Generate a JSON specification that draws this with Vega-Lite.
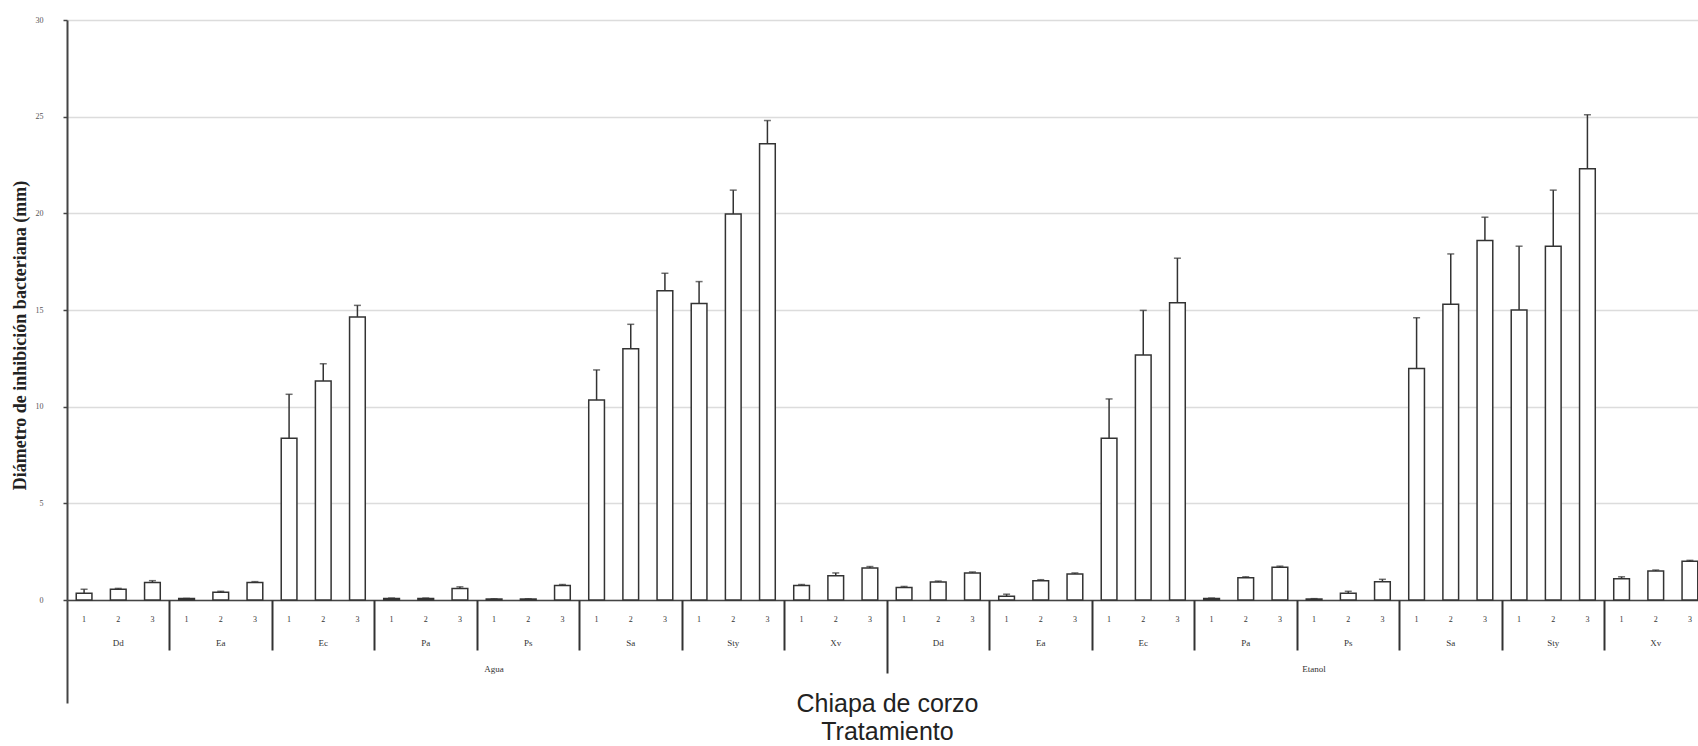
{
  "$schema": "https://vega.github.io/schema/vega-lite/v6.json",
  "width": 1640,
  "height": 580,
  "autosize": {"type": "none"},
  "padding": {"left": 67, "top": 20, "right": 0, "bottom": 146},
  "background": "white",
  "config": {
    "view": {"stroke": null},
    "axis": {"labelFont": "Liberation Serif", "titleFont": "Liberation Serif"}
  },
  "data": {
    "values": [
      {"id": "A-Dd-1", "value": 0.35, "upper": 0.55},
      {"id": "A-Dd-2", "value": 0.55, "upper": 0.6},
      {"id": "A-Dd-3", "value": 0.9, "upper": 1.0},
      {"id": "A-Ea-1", "value": 0.08, "upper": 0.08},
      {"id": "A-Ea-2", "value": 0.4, "upper": 0.45},
      {"id": "A-Ea-3", "value": 0.9, "upper": 0.95},
      {"id": "A-Ec-1", "value": 8.36, "upper": 10.64},
      {"id": "A-Ec-2", "value": 11.33, "upper": 12.22},
      {"id": "A-Ec-3", "value": 14.64, "upper": 15.24},
      {"id": "A-Pa-1", "value": 0.08, "upper": 0.1},
      {"id": "A-Pa-2", "value": 0.08, "upper": 0.1},
      {"id": "A-Pa-3", "value": 0.6, "upper": 0.68},
      {"id": "A-Ps-1", "value": 0.05, "upper": 0.06},
      {"id": "A-Ps-2", "value": 0.05, "upper": 0.06},
      {"id": "A-Ps-3", "value": 0.75, "upper": 0.8},
      {"id": "A-Sa-1", "value": 10.34, "upper": 11.9},
      {"id": "A-Sa-2", "value": 13.0, "upper": 14.26},
      {"id": "A-Sa-3", "value": 16.0, "upper": 16.9},
      {"id": "A-Sty-1", "value": 15.34, "upper": 16.47},
      {"id": "A-Sty-2", "value": 19.97, "upper": 21.2},
      {"id": "A-Sty-3", "value": 23.6, "upper": 24.8},
      {"id": "A-Xv-1", "value": 0.75, "upper": 0.8},
      {"id": "A-Xv-2", "value": 1.25, "upper": 1.4},
      {"id": "A-Xv-3", "value": 1.65, "upper": 1.73},
      {"id": "E-Dd-1", "value": 0.65, "upper": 0.7},
      {"id": "E-Dd-2", "value": 0.93, "upper": 0.98},
      {"id": "E-Dd-3", "value": 1.4, "upper": 1.45},
      {"id": "E-Ea-1", "value": 0.2, "upper": 0.3},
      {"id": "E-Ea-2", "value": 1.0, "upper": 1.05},
      {"id": "E-Ea-3", "value": 1.35, "upper": 1.4},
      {"id": "E-Ec-1", "value": 8.36, "upper": 10.4},
      {"id": "E-Ec-2", "value": 12.67, "upper": 14.98},
      {"id": "E-Ec-3", "value": 15.38, "upper": 17.68},
      {"id": "E-Pa-1", "value": 0.08, "upper": 0.1},
      {"id": "E-Pa-2", "value": 1.15, "upper": 1.2},
      {"id": "E-Pa-3", "value": 1.7, "upper": 1.75},
      {"id": "E-Ps-1", "value": 0.05, "upper": 0.07},
      {"id": "E-Ps-2", "value": 0.35, "upper": 0.45},
      {"id": "E-Ps-3", "value": 0.95, "upper": 1.07},
      {"id": "E-Sa-1", "value": 11.98, "upper": 14.6},
      {"id": "E-Sa-2", "value": 15.3, "upper": 17.9},
      {"id": "E-Sa-3", "value": 18.6, "upper": 19.8},
      {"id": "E-Sty-1", "value": 15.0, "upper": 18.3},
      {"id": "E-Sty-2", "value": 18.3, "upper": 21.2},
      {"id": "E-Sty-3", "value": 22.3, "upper": 25.1},
      {"id": "E-Xv-1", "value": 1.1, "upper": 1.2},
      {"id": "E-Xv-2", "value": 1.5, "upper": 1.55},
      {"id": "E-Xv-3", "value": 2.0, "upper": 2.05}
    ]
  },
  "layer": [
    {
      "mark": {"type": "bar", "fill": "white", "stroke": "#333", "strokeWidth": 1.5, "width": {"band": 0.46}},
      "encoding": {
        "x": {
          "field": "id", "type": "nominal", "sort": null,
          "scale": {"paddingInner": 0, "paddingOuter": 0},
          "axis": {
            "orient": "bottom", "title": null, "labelAngle": 0,
            "labelExpr": "slice(datum.value, -1)",
            "labelFontSize": 8, "labelColor": "#333", "labelPadding": 15,
            "ticks": false, "tickSize": 0, "grid": false,
            "domain": true, "domainColor": "#444", "domainWidth": 1.5
          }
        },
        "y": {
          "field": "value", "type": "quantitative",
          "scale": {"domain": [0, 30], "nice": false},
          "axis": {
            "values": [0, 5, 10, 15, 20, 25, 30],
            "title": "Diámetro de inhibición bacteriana (mm)",
            "titleFontSize": 18, "titleFontWeight": "bold", "titleColor": "#222", "titlePadding": 6,
            "titleY": 315,
            "labelFontSize": 8, "labelColor": "#555", "labelPadding": 20,
            "tickSize": 4, "tickColor": "#444", "tickWidth": 1.5,
            "domainColor": "#444", "domainWidth": 2,
            "grid": true, "gridColor": "#dcdcdc", "gridWidth": 1.5
          }
        }
      }
    },
    {
      "mark": {"type": "rule", "stroke": "#333", "strokeWidth": 1.5},
      "encoding": {
        "x": {"field": "id", "type": "nominal", "sort": null, "axis": null},
        "y": {"field": "value", "type": "quantitative"},
        "y2": {"field": "upper"}
      }
    },
    {
      "mark": {"type": "tick", "color": "#333", "size": 7, "thickness": 1.5},
      "encoding": {
        "x": {"field": "id", "type": "nominal", "sort": null, "axis": null},
        "y": {"field": "upper", "type": "quantitative"}
      }
    },
    {
      "mark": {"type": "rule", "opacity": 0},
      "encoding": {
        "x": {
          "field": "id", "type": "nominal", "sort": null,
          "axis": {
            "orient": "bottom", "title": null, "labelAngle": 0,
            "values": ["A-Dd-2", "A-Ea-2", "A-Ec-2", "A-Pa-2", "A-Ps-2", "A-Sa-2", "A-Sty-2", "A-Xv-2", "E-Dd-2", "E-Ea-2", "E-Ec-2", "E-Pa-2", "E-Ps-2", "E-Sa-2", "E-Sty-2", "E-Xv-2"],
            "labelExpr": "split(datum.value, '-')[1]",
            "labelFontSize": 9, "labelColor": "#333", "labelPadding": 38,
            "ticks": false, "tickSize": 0, "grid": false, "domain": false
          }
        }
      }
    },
    {
      "mark": {"type": "rule", "opacity": 0},
      "encoding": {
        "x": {
          "field": "id", "type": "nominal", "sort": null,
          "axis": {
            "orient": "bottom", "title": null, "labels": false,
            "values": ["A-Ea-1", "A-Ec-1", "A-Pa-1", "A-Ps-1", "A-Sa-1", "A-Sty-1", "A-Xv-1", "E-Ea-1", "E-Ec-1", "E-Pa-1", "E-Ps-1", "E-Sa-1", "E-Sty-1", "E-Xv-1"],
            "bandPosition": 0, "ticks": true, "tickSize": 50, "tickColor": "#333", "tickWidth": 2,
            "grid": false, "domain": false
          }
        }
      }
    },
    {
      "mark": {"type": "rule", "opacity": 0},
      "encoding": {
        "x": {
          "field": "id", "type": "nominal", "sort": null,
          "axis": {
            "orient": "bottom", "title": null, "labels": false,
            "values": ["E-Dd-1"],
            "bandPosition": 0, "ticks": true, "tickSize": 73, "tickColor": "#333", "tickWidth": 2,
            "grid": false, "domain": false
          }
        }
      }
    },
    {
      "mark": {"type": "rule", "opacity": 0},
      "encoding": {
        "x": {
          "field": "id", "type": "nominal", "sort": null,
          "axis": {
            "orient": "bottom", "title": null, "labels": false,
            "values": ["A-Dd-1"],
            "bandPosition": 0, "ticks": true, "tickSize": 103, "tickColor": "#444", "tickWidth": 2,
            "grid": false, "domain": false
          }
        }
      }
    },
    {
      "mark": {"type": "rule", "opacity": 0},
      "encoding": {
        "x": {
          "field": "id", "type": "nominal", "sort": null,
          "axis": {
            "orient": "bottom", "labelAngle": 0,
            "values": ["A-Ps-1", "E-Ps-1"],
            "bandPosition": 0,
            "labelExpr": "slice(datum.value, 0, 1) == 'A' ? 'Agua' : 'Etanol'",
            "labelFontSize": 9, "labelColor": "#333", "labelPadding": 64,
            "ticks": false, "tickSize": 0, "grid": false, "domain": false,
            "title": ["Chiapa de corzo", "Tratamiento"],
            "titleFont": "Liberation Sans", "titleFontSize": 25, "titleFontWeight": "normal",
            "titleColor": "#222", "titleLineHeight": 28, "titlePadding": 18
          }
        }
      }
    }
  ],
  "resolve": {"axis": {"x": "independent"}}
}
